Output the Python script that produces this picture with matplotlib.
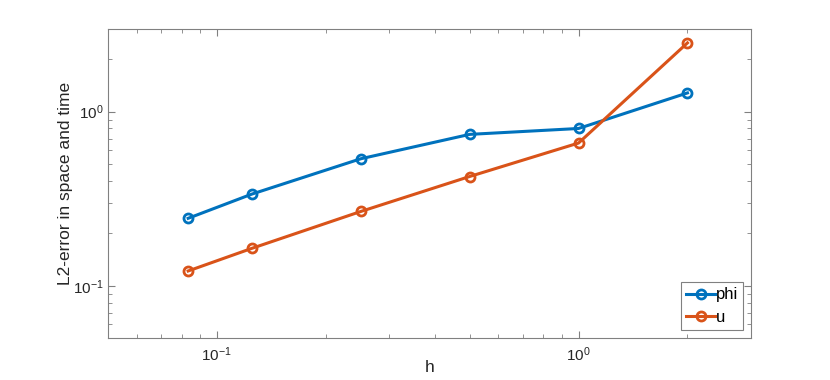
import matplotlib
matplotlib.use("Agg")
import matplotlib.pyplot as plt

# Datos
h = [1/12, 1/8, 1/4, 1/2, 1, 2]
err_phi = [0.244, 0.336, 0.536, 0.74, 0.80, 1.28]
err_u = [0.1216, 0.164, 0.267, 0.424, 0.66, 2.48]

plt.rcParams['font.family'] = ['Liberation Sans', 'DejaVu Sans']
plt.rcParams['mathtext.default'] = 'regular'

azul = '#0072BD'
naranja = '#D95319'
gris = '#262626'

fig = plt.figure(figsize=(8.3, 3.8), dpi=100)
ax = fig.add_axes([0.13, 0.11, 0.775, 0.815])

ax.loglog(h, err_phi, '-o', color=azul, lw=2.2, ms=6.5, mew=2,
          mfc='none', label='phi')
ax.loglog(h, err_u, '-o', color=naranja, lw=2.2, ms=6.5, mew=2,
          mfc='none', label='u')

ax.set_xlim(0.05, 3)
ax.set_ylim(0.05, 3)
ax.set_xlabel('h', fontsize=12.5, color=gris, va='center')
ax.set_ylabel('L2-error in space and time', fontsize=12.5, color=gris,
              va='center')
# Posicion de las etiquetas como en la figura original
ax.xaxis.set_label_coords(0.5, -0.094)
ax.yaxis.set_label_coords(-0.066, 0.5)

for lado in ax.spines.values():
    lado.set_color('#808080')
    lado.set_linewidth(0.8)
ax.tick_params(which='both', direction='in', top=True, right=True,
               colors='#808080', labelcolor=gris, labelsize=11)
ax.tick_params(which='major', length=5, pad=3)
ax.tick_params(which='minor', length=3)
ax.tick_params(axis='x', which='major', pad=5)

leg = ax.legend(loc='lower right', fontsize=12, handlelength=1.7,
                handletextpad=0.05, borderpad=0.3, labelspacing=0.45,
                fancybox=False, framealpha=1, borderaxespad=0.5)
leg.get_frame().set_edgecolor('#808080')
leg.get_frame().set_linewidth(0.8)

fig.savefig('out.png', dpi=100)
